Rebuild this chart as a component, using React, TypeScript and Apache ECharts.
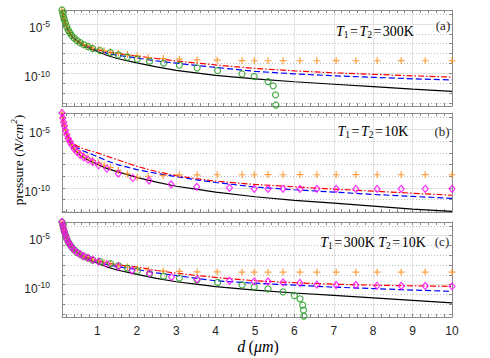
import React, { useEffect, useRef } from "react";
import * as echarts from "echarts";

// ---- data (pressure given as log10 of N/cm^2) ----
const dLine = [0.1, 0.12, 0.14, 0.16, 0.19, 0.22, 0.26, 0.3, 0.35, 0.41, 0.48, 0.56, 0.65, 0.76, 0.88, 1, 1.25, 1.5, 2, 2.5, 3, 3.5, 4, 5, 6, 7, 8, 9, 10];

const blackA = [-3.6, -4.0, -4.35, -4.65, -5.0, -5.35, -5.7, -5.95, -6.25, -6.5, -6.75, -7.0, -7.2, -7.4, -7.6, -7.8, -8.2, -8.5, -8.95, -9.35, -9.7, -9.95, -10.2, -10.55, -10.85, -11.1, -11.35, -11.6, -11.83];
const redA = [-3.6, -4.0, -4.35, -4.65, -5.0, -5.35, -5.7, -5.95, -6.25, -6.5, -6.7, -6.9, -7.1, -7.25, -7.45, -7.6, -7.85, -8.0, -8.25, -8.5, -8.75, -8.95, -9.15, -9.5, -9.75, -9.95, -10.1, -10.25, -10.38];
const blueA = [-3.6, -4.0, -4.35, -4.65, -5.0, -5.35, -5.7, -5.95, -6.25, -6.5, -6.72, -6.93, -7.13, -7.3, -7.5, -7.7, -7.98, -8.18, -8.45, -8.75, -8.97, -9.2, -9.4, -9.8, -10.05, -10.25, -10.4, -10.55, -10.66];

const blackB = [-3.6, -4.05, -4.4, -4.75, -5.15, -5.5, -5.85, -6.1, -6.4, -6.7, -6.95, -7.2, -7.4, -7.6, -7.8, -8.0, -8.35, -8.6, -9.1, -9.5, -9.85, -10.1, -10.35, -10.75, -11.05, -11.3, -11.55, -11.8, -12.0];
const redB = [-3.6, -4.05, -4.4, -4.75, -5.1, -5.4, -5.65, -5.85, -6.05, -6.25, -6.4, -6.53, -6.66, -6.78, -6.89, -7.0, -7.3, -7.58, -8.15, -8.6, -8.94, -9.2, -9.42, -9.7, -9.9, -10.1, -10.27, -10.45, -10.62];
const blueB = [-3.6, -4.05, -4.4, -4.75, -5.1, -5.42, -5.7, -5.92, -6.15, -6.37, -6.55, -6.7, -6.85, -7.0, -7.16, -7.33, -7.7, -8.0, -8.43, -8.75, -9.03, -9.3, -9.53, -9.92, -10.15, -10.35, -10.55, -10.72, -10.89];

const blackC = [-3.6, -4.0, -4.35, -4.65, -5.0, -5.35, -5.7, -5.95, -6.25, -6.5, -6.75, -7.0, -7.2, -7.4, -7.6, -7.8, -8.2, -8.5, -8.95, -9.35, -9.7, -9.95, -10.2, -10.55, -10.85, -11.1, -11.35, -11.6, -11.85];
const redC = [-3.6, -4.0, -4.35, -4.65, -5.0, -5.35, -5.7, -5.95, -6.25, -6.5, -6.65, -6.85, -7.05, -7.2, -7.38, -7.55, -7.78, -7.95, -8.2, -8.55, -8.82, -9.05, -9.26, -9.6, -9.8, -9.95, -10.05, -10.12, -10.17];
const blueC = [-3.6, -4.0, -4.35, -4.65, -5.0, -5.35, -5.7, -5.95, -6.25, -6.5, -6.7, -6.9, -7.1, -7.28, -7.48, -7.7, -7.95, -8.15, -8.45, -8.8, -9.06, -9.35, -9.6, -9.85, -10.05, -10.25, -10.4, -10.55, -10.68];

const dPlus = [0.1, 0.12, 0.14, 0.16, 0.19, 0.22, 0.26, 0.3, 0.35, 0.41, 0.48, 0.56, 0.65, 0.76, 0.88, 1.03, 1.17, 1.33, 1.53, 1.76, 2.01, 2.29, 2.67, 3.08, 3.53, 4.04, 4.67, 4.98, 5.33, 5.71, 6.14, 6.57, 7.06, 7.56, 8.1, 8.71, 9.32, 10];
const plusA = [-3.6, -3.95, -4.3, -4.6, -4.95, -5.3, -5.65, -5.9, -6.2, -6.45, -6.7, -6.9, -7.1, -7.25, -7.45, -7.6, -7.72, -7.85, -7.95, -8.1, -8.23, -8.43, -8.5, -8.57, -8.64, -8.67, -8.72, -8.73, -8.73, -8.72, -8.73, -8.73, -8.72, -8.73, -8.73, -8.72, -8.73, -8.73];
const plusB = [-3.6, -4.0, -4.35, -4.65, -5.05, -5.4, -5.75, -6.0, -6.3, -6.6, -6.85, -7.05, -7.25, -7.45, -7.65, -7.85, -8.05, -8.25, -8.5, -8.8, -9.1, -9.0, -8.93, -8.88, -8.88, -8.87, -8.87, -8.87, -8.86, -8.87, -8.86, -8.87, -8.87, -8.86, -8.87, -8.87, -8.86, -8.87];
const plusC = [-3.6, -3.95, -4.3, -4.6, -4.95, -5.3, -5.65, -5.9, -6.2, -6.45, -6.7, -6.9, -7.1, -7.25, -7.45, -7.6, -7.75, -7.9, -8.05, -8.2, -8.4, -8.5, -8.6, -8.65, -8.7, -8.7, -8.72, -8.72, -8.72, -8.71, -8.72, -8.72, -8.71, -8.72, -8.72, -8.72, -8.71, -8.72];

const dCircA = [0.1, 0.12, 0.14, 0.16, 0.19, 0.22, 0.26, 0.3, 0.35, 0.41, 0.48, 0.56, 0.65, 0.76, 0.88, 1.07, 1.33, 1.53, 1.76, 2.01, 2.32, 2.68, 3.08, 3.53, 4.05, 4.67, 4.98, 5.33, 5.46, 5.52, 5.53];
const circA = [-3.6, -3.95, -4.3, -4.6, -4.95, -5.3, -5.65, -5.9, -6.2, -6.45, -6.7, -6.9, -7.1, -7.3, -7.5, -7.7, -7.9, -8.13, -8.36, -8.57, -8.77, -8.97, -9.17, -9.44, -9.72, -10.05, -10.32, -10.83, -11.26, -12.17, -13.2];

const dCircC = [0.1, 0.12, 0.14, 0.16, 0.19, 0.22, 0.26, 0.3, 0.35, 0.41, 0.48, 0.56, 0.65, 0.76, 0.88, 1.07, 1.33, 1.53, 1.76, 2.01, 2.32, 2.68, 3.08, 3.53, 4.05, 4.67, 4.98, 5.33, 5.71, 6.0, 6.14, 6.21, 6.23, 6.24];
const circC = [-3.6, -3.95, -4.3, -4.6, -4.95, -5.3, -5.65, -5.9, -6.2, -6.45, -6.7, -6.9, -7.1, -7.3, -7.5, -7.65, -7.85, -8.05, -8.3, -8.6, -8.9, -9.12, -9.32, -9.5, -9.77, -10.03, -10.23, -10.43, -10.74, -11.11, -11.44, -12.09, -12.6, -13.2];

const dDiaB = [0.1, 0.12, 0.14, 0.16, 0.19, 0.22, 0.26, 0.3, 0.35, 0.41, 0.48, 0.56, 0.65, 0.76, 0.88, 1.03, 1.24, 1.53, 1.9, 2.31, 2.87, 3.52, 4.35, 4.98, 5.33, 5.71, 6.14, 6.57, 7.06, 7.56, 8.1, 8.71, 9.32, 10];
const diaB = [-3.6, -4.02, -4.38, -4.7, -5.1, -5.45, -5.8, -6.05, -6.35, -6.65, -6.92, -7.17, -7.38, -7.58, -7.78, -8.07, -8.35, -8.77, -9.14, -9.36, -9.7, -9.9, -9.98, -10.07, -10.07, -10.07, -10.08, -10.07, -10.08, -10.08, -10.08, -10.07, -10.07, -10.07];

const dDiaC = [0.1, 0.12, 0.14, 0.16, 0.19, 0.22, 0.26, 0.3, 0.35, 0.41, 0.48, 0.56, 0.65, 0.76, 0.88, 1.03, 1.24, 1.53, 1.88, 2.32, 2.88, 3.53, 4.35, 4.98, 5.33, 5.71, 6.14, 6.57, 7.06, 7.56, 8.1, 8.71, 9.32, 10];
const diaC = [-3.6, -3.95, -4.3, -4.6, -4.95, -5.3, -5.65, -5.9, -6.2, -6.45, -6.7, -6.9, -7.1, -7.25, -7.45, -7.65, -7.9, -8.15, -8.55, -8.85, -9.22, -9.45, -9.6, -9.67, -9.67, -9.77, -9.83, -10.0, -10.03, -10.03, -10.1, -10.13, -10.13, -10.17];

// y tick labels shown (decade exponents)
const yLabelExps = [-5, -10];
// x tick labels shown
const xLabels = [1, 2, 3, 4, 5, 6, 7, 8, 9, 10];
const xRange = [0.1, 10];
// log10 range of each panel
const yRanges = [
  [-13.3, -3.6],
  [-12.05, -3.6],
  [-13.3, -3.6],
];
const panelNotes = ["(a)", "(b)", "(c)"];

// ---- style ----
const SANS = "'Liberation Sans', Arial, sans-serif";
const SERIF = "'Liberation Serif', 'Times New Roman', serif";
const AXIS_GRAY = "#8a8a8a";
const TXT = "#262626";
const C_BLACK = "#000000";
const C_RED = "#ff0000";
const C_BLUE = "#0000ff";
const C_ORANGE = "#ff8a14";
const C_GREEN = "#1f9a1f";
const C_MAG = "#ff00ff";

const GRID_LEFT = 62;
const GRID_W = 390;
const gridBoxes = [
  { top: 10, height: 96 },
  { top: 113, height: 99 },
  { top: 222, height: 95 },
];

const PLUS = "path://M4,0L4,8M0,4L8,4";

function pairs(xs: number[], ys: number[]) {
  return xs.map((x, i) => [x, ys[i]]);
}

function buildOption() {
  const grid: any[] = [];
  const xAxis: any[] = [];
  const yAxis: any[] = [];
  const series: any[] = [];

  gridBoxes.forEach((g, gi) => {
    grid.push({ left: GRID_LEFT, width: GRID_W, top: g.top, height: g.height, containLabel: false });
    const [ymin, ymax] = yRanges[gi];
    const isLast = gi === gridBoxes.length - 1;
    // major x (integer grid + labels)
    xAxis.push({
      type: "value", gridIndex: gi, min: xRange[0], max: xRange[1], splitNumber: 10,
      position: "bottom",
      axisLine: { show: true, lineStyle: { color: AXIS_GRAY, width: 1 } },
      axisTick: { show: false },
      axisLabel: {
        show: isLast, color: TXT, fontFamily: SANS, fontSize: 12, margin: 8,
        formatter: (v: number) => (xLabels.indexOf(v) >= 0 ? String(v) : ""),
      },
      splitLine: { show: true, lineStyle: { color: "#e3e3e3", width: 1, type: "solid" } },
    });
    // minor x bottom ticks
    xAxis.push({
      type: "value", gridIndex: gi, min: xRange[0], max: xRange[1], splitNumber: 50,
      position: "bottom",
      axisLine: { show: false },
      axisTick: { show: true, inside: true, length: 3, lineStyle: { color: AXIS_GRAY } },
      axisLabel: { show: false },
      splitLine: { show: false },
    });
    // minor x top ticks
    xAxis.push({
      type: "value", gridIndex: gi, min: xRange[0], max: xRange[1], splitNumber: 50,
      position: "top",
      axisLine: { show: true, lineStyle: { color: AXIS_GRAY, width: 1 } },
      axisTick: { show: true, inside: true, length: 3, lineStyle: { color: AXIS_GRAY } },
      axisLabel: { show: false },
      splitLine: { show: false },
    });
    // left decade axis
    yAxis.push({
      type: "value", gridIndex: gi, min: ymin, max: ymax, splitNumber: 10,
      position: "left",
      axisLine: { show: true, lineStyle: { color: AXIS_GRAY, width: 1 } },
      axisTick: { show: true, inside: true, length: 3, lineStyle: { color: AXIS_GRAY } },
      axisLabel: {
        show: true, color: TXT, fontFamily: SANS, margin: 12, padding: [6, 0, 0, 0],
        formatter: (v: number) => (yLabelExps.indexOf(v) >= 0 ? `{b|10}{s|${v}}` : ""),
        rich: {
          b: { fontSize: 12, fontFamily: SANS, color: TXT, lineHeight: 14, verticalAlign: "bottom" },
          s: { fontSize: 8.5, fontFamily: SANS, color: TXT, lineHeight: 8, verticalAlign: "top" },
        },
      },
      splitLine: { show: true, lineStyle: { color: "#bdbdbd", width: 1, type: [1, 2] } },
    });
    // right decade axis
    yAxis.push({
      type: "value", gridIndex: gi, min: ymin, max: ymax, splitNumber: 10,
      position: "right",
      axisLine: { show: true, lineStyle: { color: AXIS_GRAY, width: 1 } },
      axisTick: { show: true, inside: true, length: 3, lineStyle: { color: AXIS_GRAY } },
      axisLabel: { show: false },
      splitLine: { show: false },
    });
    // major y grid
    yAxis.push({
      type: "value", gridIndex: gi, min: ymin, max: ymax, splitNumber: 2,
      position: "left",
      axisLine: { show: false },
      axisTick: { show: false },
      axisLabel: { show: false },
      splitLine: { show: true, lineStyle: { color: "#e3e3e3", width: 1, type: "solid" } },
    });
  });

  const line = (gi: number, ys: number[], color: string, type: any) => ({
    type: "line", xAxisIndex: gi * 3, yAxisIndex: gi * 3, data: pairs(dLine, ys),
    showSymbol: false, symbol: "none", silent: true, clip: true, z: 2,
    lineStyle: { color, width: 1.2, type },
  });
  const marks = (gi: number, xs: number[], ys: number[], symbol: string, size: any, color: string, z: number) => ({
    type: "scatter", xAxisIndex: gi * 3, yAxisIndex: gi * 3, data: pairs(xs, ys),
    symbol, symbolSize: size, silent: true, clip: true, z,
    itemStyle: { color: "rgba(0,0,0,0)", borderColor: color, borderWidth: 1.2 },
  });
  const DASH = [6, 3];
  const DASHDOT = [6, 2, 1.5, 2];

  // panel a
  series.push(line(0, blackA, C_BLACK, "solid"), line(0, redA, C_RED, DASHDOT), line(0, blueA, C_BLUE, DASH));
  series.push(marks(0, dPlus, plusA, PLUS, 7, C_ORANGE, 3), marks(0, dCircA, circA, "circle", 6, C_GREEN, 4));
  // panel b
  series.push(line(1, blackB, C_BLACK, "solid"), line(1, redB, C_RED, DASHDOT), line(1, blueB, C_BLUE, DASH));
  series.push(marks(1, dPlus, plusB, PLUS, 7, C_ORANGE, 3), marks(1, dDiaB, diaB, "diamond", [6, 7], C_MAG, 4));
  // panel c
  series.push(line(2, blackC, C_BLACK, "solid"), line(2, redC, C_RED, DASHDOT), line(2, blueC, C_BLUE, DASH));
  series.push(
    marks(2, dPlus, plusC, PLUS, 7, C_ORANGE, 3),
    marks(2, dCircC, circC, "circle", 6, C_GREEN, 4),
    marks(2, dDiaC, diaC, "diamond", [6, 7], C_MAG, 5)
  );

  const annRich = {
    i: { fontFamily: SERIF, fontStyle: "italic", fontSize: 14, color: TXT, lineHeight: 16, verticalAlign: "top" },
    n: { fontFamily: SERIF, fontSize: 14, color: TXT, lineHeight: 16, verticalAlign: "top" },
    e: { fontFamily: SERIF, fontSize: 14, color: TXT, lineHeight: 16, verticalAlign: "top", padding: [0, 1.5, 0, 1.5] },
    sub: { fontFamily: SERIF, fontSize: 9.5, color: TXT, lineHeight: 10, verticalAlign: "bottom" },
  };
  const ann = (x: number, y: number, text: string) => ({
    type: "text", x, y, silent: true, z: 10,
    style: { text, rich: annRich, align: "center", verticalAlign: "middle", textAlign: "center", textVerticalAlign: "middle" },
  });
  const tag = (x: number, y: number, text: string) => ({
    type: "text", x, y, silent: true, z: 10,
    style: { text, fontFamily: SERIF, fontSize: 13, fill: TXT, align: "center", verticalAlign: "middle", textAlign: "center", textVerticalAlign: "middle" },
  });

  const graphic = [
    ann(375, 32, "{i|T}{sub|1}{e|=}{i|T}{sub|2}{e|=}{n|300K}"),
    ann(373, 132, "{i|T}{sub|1}{e|=}{i|T}{sub|2}{e|=}{n|10K}"),
    ann(373, 243, "{i|T}{sub|1}{e|=}{n|300K }{i|T}{sub|2}{e|=}{n|10K}"),
    tag(443, 25, panelNotes[0]),
    tag(442, 131, panelNotes[1]),
    tag(442, 241, panelNotes[2]),
    {
      type: "text", x: 258, y: 346, silent: true,
      style: {
        text: "{i|d} {n|(}{i|μm}{n|)}", align: "center", verticalAlign: "middle", textAlign: "center", textVerticalAlign: "middle",
        rich: {
          i: { fontFamily: SERIF, fontStyle: "italic", fontSize: 16, color: TXT },
          n: { fontFamily: SERIF, fontSize: 16, color: TXT },
        },
      },
    },
    {
      type: "text", x: 17, y: 160, rotation: Math.PI / 2, silent: true,
      style: {
        text: "{n|pressure (}{i|N/cm}{s|2}{n|)}", align: "center", verticalAlign: "middle", textAlign: "center", textVerticalAlign: "middle",
        rich: {
          n: { fontFamily: SERIF, fontSize: 13.5, color: TXT, lineHeight: 16, verticalAlign: "bottom" },
          i: { fontFamily: SERIF, fontStyle: "italic", fontSize: 13.5, color: TXT, lineHeight: 16, verticalAlign: "bottom" },
          s: { fontFamily: SERIF, fontStyle: "italic", fontSize: 9, color: TXT, lineHeight: 9, verticalAlign: "top" },
        },
      },
    },
  ];

  return {
    animation: false,
    backgroundColor: "#ffffff",
    textStyle: { fontFamily: SANS },
    grid, xAxis, yAxis, series, graphic,
  };
}

export default function App() {
  const ref = useRef<HTMLDivElement>(null);
  useEffect(() => {
    if (!ref.current) return;
    const chart = echarts.init(ref.current, undefined, { renderer: "svg" });
    chart.setOption(buildOption() as any);
    return () => chart.dispose();
  }, []);
  return (
    <div
      ref={ref}
      style={{ position: "fixed", left: 0, top: 0, width: 490, height: 358, background: "#fff" }}
    />
  );
}
